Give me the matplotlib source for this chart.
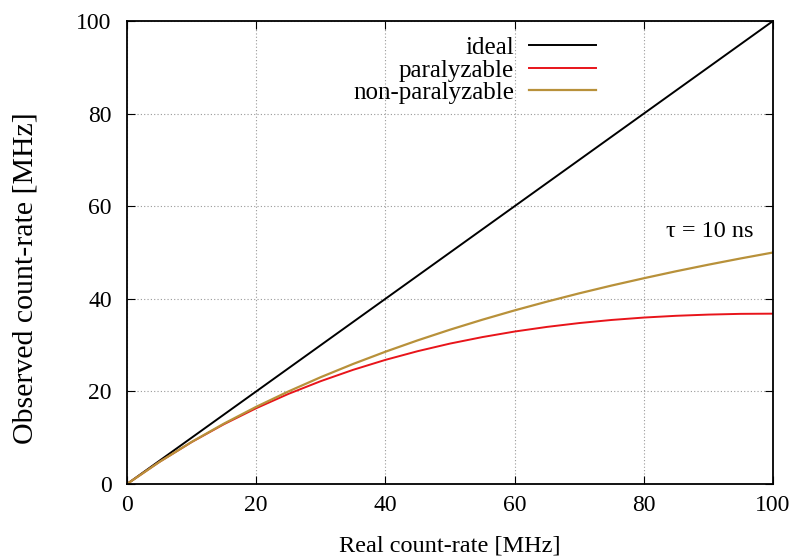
import numpy as np
import matplotlib.pyplot as plt

plt.rcParams['font.family'] = ['Liberation Serif', 'DejaVu Serif']

# real count-rate [MHz]
rate = [0, 5, 10, 15, 20, 25, 30, 35, 40, 45, 50, 55, 60, 65, 70, 75, 80, 85, 90, 95, 100]
# observed count-rate [MHz]
ideal = [0, 5, 10, 15, 20, 25, 30, 35, 40, 45, 50, 55, 60, 65, 70, 75, 80, 85, 90, 95, 100]
paralyzable = [0, 4.76, 9.05, 12.91, 16.37, 19.47, 22.22, 24.66, 26.81, 28.69, 30.33,
               31.73, 32.93, 33.93, 34.76, 35.43, 35.95, 36.33, 36.59, 36.75, 36.79]
non_paralyzable = [0, 4.76, 9.09, 13.04, 16.67, 20.0, 23.08, 25.93, 28.57, 31.03, 33.33,
                   35.48, 37.5, 39.39, 41.18, 42.86, 44.44, 45.95, 47.37, 48.72, 50.0]
ticks = [0, 20, 40, 60, 80, 100]

fig = plt.figure(figsize=(8.09, 5.60), dpi=100)
ax = fig.add_axes([0.157, 0.1357, 0.7985, 0.8268])

ax.plot(rate, ideal, color='black', lw=1.4, label='ideal')
ax.plot(rate, paralyzable, color='#e8141a', lw=1.4, label='paralyzable')
ax.plot(rate, non_paralyzable, color='#b8913a', lw=1.6, label='non-paralyzable')

ax.set_xlim(0, 100)
ax.set_ylim(0, 100)
ax.set_xticks(ticks)
ax.set_yticks(ticks)
ax.grid(True, color='#999999', linestyle=(0, (1, 2)), lw=0.8)
ax.tick_params(direction='in', top=True, right=True, length=6, labelsize=17)
ax.tick_params(axis='x', pad=8)
ax.tick_params(axis='y', pad=11)
for s in ax.spines.values():
    s.set_linewidth(1.3)

ax.set_xlabel('Real count-rate [MHz]', fontsize=17.5, labelpad=14)
ax.set_ylabel('Observed count-rate [MHz]', fontsize=21.5)
ax.yaxis.set_label_coords(-0.137, 0.445)

ax.text(90.2, 54.6, '\u03c4 = 10 ns', fontsize=17.5, ha='center', va='center')

leg = ax.legend(loc='upper left', bbox_to_anchor=(0.315, 1.015), frameon=False,
                markerfirst=False, fontsize=18, handlelength=2.7, labelspacing=0.0,
                handletextpad=0.6)
for t in leg.get_texts():
    t.set_ha('right')
leg._legend_box.align = 'right'

fig.savefig('out.png', dpi=100)
